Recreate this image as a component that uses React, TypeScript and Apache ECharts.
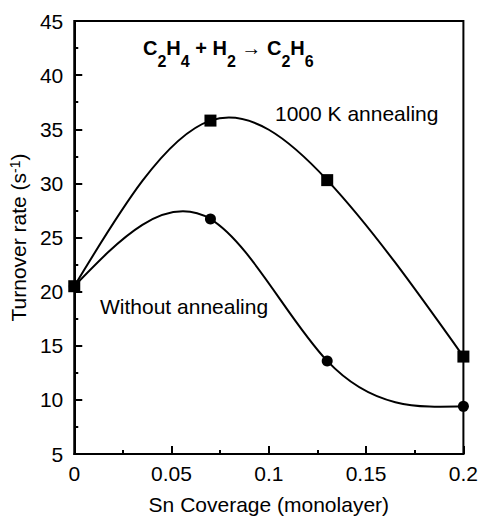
import React, { useEffect, useRef } from 'react';
import * as echarts from 'echarts';

const coverage = [0, 0.07, 0.13, 0.2];
const annealed = [20.5, 35.8, 30.3, 14.0];
const unannealed = [20.5, 26.7, 13.6, 9.4];
const xMin = 0, xMax = 0.2, xStep = 0.05;
const yMin = 5, yMax = 45, yStep = 5;
const annealedLabel = '1000 K annealing';
const unannealedLabel = 'Without annealing';
const xName = 'Sn Coverage (monolayer)';

const FONT = '"Liberation Sans", Arial, Helvetica, sans-serif';

// Natural cubic spline slopes at the data points (curve drawn as exact Bezier segments)
function splineSlopes(xs: number[], ys: number[]): number[] {
  const n = xs.length;
  const h: number[] = [];
  const s: number[] = [];
  for (let i = 0; i < n - 1; i++) {
    h.push(xs[i + 1] - xs[i]);
    s.push((ys[i + 1] - ys[i]) / h[i]);
  }
  const M = new Array(n).fill(0);
  const m = n - 2;
  if (m > 0) {
    const a: number[] = [], b: number[] = [], c: number[] = [], d: number[] = [];
    for (let k = 0; k < m; k++) {
      const i = k + 1;
      a.push(h[i - 1]);
      b.push(2 * (h[i - 1] + h[i]));
      c.push(h[i]);
      d.push(6 * (s[i] - s[i - 1]));
    }
    for (let k = 1; k < m; k++) {
      const w = a[k] / b[k - 1];
      b[k] -= w * c[k - 1];
      d[k] -= w * d[k - 1];
    }
    const sol = new Array(m).fill(0);
    sol[m - 1] = d[m - 1] / b[m - 1];
    for (let k = m - 2; k >= 0; k--) sol[k] = (d[k] - c[k] * sol[k + 1]) / b[k];
    for (let k = 0; k < m; k++) M[k + 1] = sol[k];
  }
  const slopes: number[] = [];
  for (let i = 0; i < n - 1; i++) slopes.push(s[i] - (h[i] * (2 * M[i] + M[i + 1])) / 6);
  slopes.push(s[n - 2] + (h[n - 2] * (M[n - 2] + 2 * M[n - 1])) / 6);
  return slopes;
}

function curveSeries(name: string, xs: number[], ys: number[]) {
  const slopes = splineSlopes(xs, ys);
  return {
    type: 'custom',
    name,
    clip: false,
    z: 2,
    data: xs.map((x, i) => [x, ys[i]]),
    renderItem: (params: any, api: any) => {
      const i = params.dataIndex;
      if (i >= xs.length - 1) return { type: 'group', children: [] };
      const hh = xs[i + 1] - xs[i];
      const p0 = api.coord([xs[i], ys[i]]);
      const p1 = api.coord([xs[i] + hh / 3, ys[i] + (slopes[i] * hh) / 3]);
      const p2 = api.coord([xs[i + 1] - hh / 3, ys[i + 1] - (slopes[i + 1] * hh) / 3]);
      const p3 = api.coord([xs[i + 1], ys[i + 1]]);
      return {
        type: 'bezierCurve',
        shape: { x1: p0[0], y1: p0[1], cpx1: p1[0], cpy1: p1[1], cpx2: p2[0], cpy2: p2[1], x2: p3[0], y2: p3[1] },
        style: { stroke: '#000', lineWidth: 2, fill: 'none' },
      };
    },
  };
}

export default function App() {
  const ref = useRef<HTMLDivElement>(null);
  useEffect(() => {
    if (!ref.current) return;
    const chart = echarts.init(ref.current, null, { renderer: 'svg' });
    const axisCommon = {
      axisLine: { show: true, lineStyle: { color: '#000', width: 2 } },
      axisTick: { show: true, inside: true, length: 8, lineStyle: { color: '#000', width: 2 } },
      minorTick: { show: true, splitNumber: 2, length: 4, lineStyle: { color: '#000', width: 2 } },
      splitLine: { show: false },
    };
    chart.setOption({
      animation: false,
      backgroundColor: '#fff',
      grid: { left: 71, right: 16, top: 21, bottom: 58, show: true, borderColor: '#000', borderWidth: 2 },
      xAxis: {
        type: 'value', min: xMin, max: xMax, interval: xStep,
        ...axisCommon,
        axisLabel: { color: '#000', fontSize: 21, fontFamily: FONT, margin: 9, formatter: (v: number) => String(+v.toFixed(2)) },
        name: xName, nameLocation: 'middle', nameGap: 40,
        nameTextStyle: { color: '#000', fontSize: 21, fontFamily: FONT },
      },
      yAxis: {
        type: 'value', min: yMin, max: yMax, interval: yStep,
        ...axisCommon,
        axisLabel: { color: '#000', fontSize: 21, fontFamily: FONT, margin: 11 },
        name: 'Turnover rate (s{sup|-1})', nameLocation: 'middle', nameGap: 37,
        nameTextStyle: {
          color: '#000', fontSize: 21, fontFamily: FONT,
          rich: { sup: { fontSize: 14, fontFamily: FONT, color: '#000', verticalAlign: 'top', lineHeight: 14 } },
        },
      },
      graphic: [
        {
          type: 'text', left: 143, top: 38,
          style: {
            text: '{m|C}{s|2}{m|H}{s|4}{m| + H}{s|2}{m| \u2192 C}{s|2}{m|H}{s|6}',
            fill: '#000',
            rich: {
              m: { fontSize: 20, fontWeight: 'bold', fontFamily: FONT, lineHeight: 22, verticalAlign: 'top' },
              s: { fontSize: 16, fontWeight: 'bold', fontFamily: FONT, lineHeight: 31, verticalAlign: 'bottom' },
            },
          },
        },
        {
          type: 'text', left: 275, top: 103,
          style: { text: annealedLabel, fontSize: 21, fontFamily: FONT, fill: '#000' },
        },
        {
          type: 'text', left: 100, top: 296,
          style: { text: unannealedLabel, fontSize: 21, fontFamily: FONT, fill: '#000' },
        },
      ],
      series: [
        curveSeries(unannealedLabel + ' curve', coverage, unannealed),
        curveSeries(annealedLabel + ' curve', coverage, annealed),
        {
          type: 'scatter', name: unannealedLabel, clip: false, z: 3,
          data: coverage.map((x, i) => [x, unannealed[i]]),
          symbol: 'circle', symbolSize: 11,
          itemStyle: { color: '#000', opacity: 1 },
        },
        {
          type: 'scatter', name: annealedLabel, clip: false, z: 4,
          data: coverage.map((x, i) => [x, annealed[i]]),
          symbol: 'rect', symbolSize: 12,
          itemStyle: { color: '#000', opacity: 1 },
        },
      ],
    });
    return () => chart.dispose();
  }, []);
  return <div ref={ref} style={{ position: 'fixed', left: 0, top: 0, width: 481, height: 520 }} />;
}
